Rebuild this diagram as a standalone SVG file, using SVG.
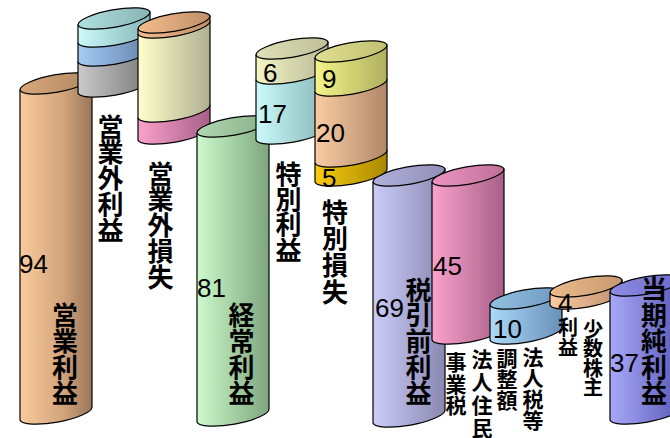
<svg xmlns="http://www.w3.org/2000/svg" width="670" height="438" viewBox="0 0 670 438">
<defs>
<linearGradient id="gTan"><stop offset="0" stop-color="#FACB9C"/><stop offset="0.6" stop-color="#D2A47C"/><stop offset="1" stop-color="#9A765A"/></linearGradient>
<linearGradient id="gTanTop"><stop offset="0" stop-color="#D8A87C"/><stop offset="1" stop-color="#B08860"/></linearGradient>
<linearGradient id="gCyan"><stop offset="0" stop-color="#CCFAFA"/><stop offset="1" stop-color="#86B6B8"/></linearGradient>
<linearGradient id="gCyanTop"><stop offset="0" stop-color="#B0E0E0"/><stop offset="1" stop-color="#88B4B4"/></linearGradient>
<linearGradient id="gBlue"><stop offset="0" stop-color="#A4CCF4"/><stop offset="1" stop-color="#6482AC"/></linearGradient>
<linearGradient id="gGray"><stop offset="0" stop-color="#CACACA"/><stop offset="1" stop-color="#7A7A7A"/></linearGradient>
<linearGradient id="gOrTop"><stop offset="0" stop-color="#F4BC8C"/><stop offset="1" stop-color="#C09068"/></linearGradient>
<linearGradient id="gYel"><stop offset="0" stop-color="#FFFFCC"/><stop offset="1" stop-color="#B0B092"/></linearGradient>
<linearGradient id="gPink"><stop offset="0" stop-color="#FAA2CC"/><stop offset="1" stop-color="#A86088"/></linearGradient>
<linearGradient id="gGreen"><stop offset="0" stop-color="#CCFACC"/><stop offset="1" stop-color="#7EA67E"/></linearGradient>
<linearGradient id="gGreenTop"><stop offset="0" stop-color="#B0D8B0"/><stop offset="1" stop-color="#88B088"/></linearGradient>
<linearGradient id="gPale"><stop offset="0" stop-color="#F4F4C4"/><stop offset="1" stop-color="#B8B898"/></linearGradient>
<linearGradient id="gPaleTop"><stop offset="0" stop-color="#E0E0B8"/><stop offset="1" stop-color="#C0C098"/></linearGradient>
<linearGradient id="gYG"><stop offset="0" stop-color="#F4F488"/><stop offset="1" stop-color="#B0B060"/></linearGradient>
<linearGradient id="gYGTop"><stop offset="0" stop-color="#E0E090"/><stop offset="1" stop-color="#C0C070"/></linearGradient>
<linearGradient id="gOr"><stop offset="0" stop-color="#FACCA4"/><stop offset="1" stop-color="#B08868"/></linearGradient>
<linearGradient id="gGold"><stop offset="0" stop-color="#FACC10"/><stop offset="1" stop-color="#A88800"/></linearGradient>
<linearGradient id="gLav"><stop offset="0" stop-color="#CCCCFA"/><stop offset="1" stop-color="#8888B0"/></linearGradient>
<linearGradient id="gLavTop"><stop offset="0" stop-color="#B0B0DC"/><stop offset="1" stop-color="#9090B8"/></linearGradient>
<linearGradient id="gPinkTop"><stop offset="0" stop-color="#EC94C4"/><stop offset="1" stop-color="#C07098"/></linearGradient>
<linearGradient id="gSky"><stop offset="0" stop-color="#ACDAFA"/><stop offset="1" stop-color="#6890B8"/></linearGradient>
<linearGradient id="gSkyTop"><stop offset="0" stop-color="#90C0E0"/><stop offset="1" stop-color="#7098C0"/></linearGradient>
<linearGradient id="gTan2"><stop offset="0" stop-color="#FACCA2"/><stop offset="1" stop-color="#C09070"/></linearGradient>
<linearGradient id="gTan2Top"><stop offset="0" stop-color="#ECBC8C"/><stop offset="1" stop-color="#C89870"/></linearGradient>
<linearGradient id="gPur"><stop offset="0" stop-color="#A8A8FA"/><stop offset="1" stop-color="#5A5AB8"/></linearGradient>
<linearGradient id="gPurTop"><stop offset="0" stop-color="#8C8CE4"/><stop offset="1" stop-color="#6A6AC8"/></linearGradient>
</defs>
<style>
.c path{stroke:#000;stroke-width:1.2;stroke-linejoin:round}
.n{font-family:"Liberation Sans",Arial,sans-serif;font-size:26px;fill:#000}
.j{font-family:"Noto Sans CJK JP","Noto Sans CJK SC",sans-serif;font-weight:700;font-size:26px;fill:#000;text-anchor:middle}
.s{font-size:21px}
.t{font-size:20px}
</style>
<g id="cyl-eigyo-rieki" class="c">
<path fill="url(#gTan)" d="M20,90 L20,420 A36.6 9 -10.2 0 0 92,407 L92,77 Z"/>
<path fill="url(#gTanTop)" d="M20,90 A36.6 9 -10.2 0 1 92,77 A36.6 9 -10.2 0 1 20,90 Z"/>
</g>
<g id="cyl-eigyogai-rieki" class="c">
<path fill="url(#gGray)" d="M78,62 L78,93 A36.6 9 -10.2 0 0 150,80 L150,49 Z"/>
<path fill="url(#gBlue)" d="M78,43 L78,62 A36.6 9 -10.2 0 0 150,49 L150,30 Z"/>
<path fill="url(#gCyan)" d="M78,25 L78,43 A36.6 9 -10.2 0 0 150,30 L150,12 Z"/>
<path fill="url(#gCyanTop)" d="M78,25 A36.6 9 -10.2 0 1 150,12 A36.6 9 -10.2 0 1 78,25 Z"/>
</g>
<g id="cyl-eigyogai-sonshitsu" class="c">
<path fill="url(#gPink)" d="M138,118 L138,140 A36.6 9 -10.2 0 0 210,127 L210,105 Z"/>
<path fill="url(#gYel)" d="M138,34 L138,118 A36.6 9 -10.2 0 0 210,105 L210,21 Z"/>
<path fill="url(#gOrTop)" d="M138,29 L138,34 A36.6 9 -10.2 0 0 210,21 L210,16 Z"/>
<path fill="url(#gOrTop)" d="M138,29 A36.6 9 -10.2 0 1 210,16 A36.6 9 -10.2 0 1 138,29 Z"/>
</g>
<g id="cyl-keijo-rieki" class="c">
<path fill="url(#gGreen)" d="M197,133 L197,422 A36.6 9 -10.2 0 0 269,409 L269,120 Z"/>
<path fill="url(#gGreenTop)" d="M197,133 A36.6 9 -10.2 0 1 269,120 A36.6 9 -10.2 0 1 197,133 Z"/>
</g>
<g id="cyl-tokubetsu-rieki" class="c">
<path fill="url(#gCyan)" d="M256,80 L256,140 A36.6 9 -10.2 0 0 328,127 L328,67 Z"/>
<path fill="url(#gPale)" d="M256,55 L256,80 A36.6 9 -10.2 0 0 328,67 L328,42 Z"/>
<path fill="url(#gPaleTop)" d="M256,55 A36.6 9 -10.2 0 1 328,42 A36.6 9 -10.2 0 1 256,55 Z"/>
</g>
<g id="cyl-zeibikimae" class="c">
<path fill="url(#gLav)" d="M373,182 L373,423 A36.6 9 -10.2 0 0 445,410 L445,169 Z"/>
<path fill="url(#gLavTop)" d="M373,182 A36.6 9 -10.2 0 1 445,169 A36.6 9 -10.2 0 1 373,182 Z"/>
</g>
<g id="cyl-tokubetsu-sonshitsu" class="c">
<path fill="url(#gGold)" d="M315,163 L315,182 A36.6 9 -10.2 0 0 387,169 L387,150 Z"/>
<path fill="url(#gOr)" d="M315,92 L315,163 A36.6 9 -10.2 0 0 387,150 L387,79 Z"/>
<path fill="url(#gYG)" d="M315,58 L315,92 A36.6 9 -10.2 0 0 387,79 L387,45 Z"/>
<path fill="url(#gYGTop)" d="M315,58 A36.6 9 -10.2 0 1 387,45 A36.6 9 -10.2 0 1 315,58 Z"/>
</g>
<g id="cyl-hojin-jumin" class="c">
<path fill="url(#gPink)" d="M432,182 L432,340 A36.6 9 -10.2 0 0 504,327 L504,169 Z"/>
<path fill="url(#gPinkTop)" d="M432,182 A36.6 9 -10.2 0 1 504,169 A36.6 9 -10.2 0 1 432,182 Z"/>
</g>
<g id="cyl-chosei" class="c">
<path fill="url(#gSky)" d="M490,305 L490,340 A36.6 9 -10.2 0 0 562,327 L562,292 Z"/>
<path fill="url(#gSkyTop)" d="M490,305 A36.6 9 -10.2 0 1 562,292 A36.6 9 -10.2 0 1 490,305 Z"/>
</g>
<g id="cyl-shosu" class="c">
<path fill="url(#gTan2)" d="M550,293 L550,305 A36.6 9 -10.2 0 0 622,292 L622,280 Z"/>
<path fill="url(#gTan2Top)" d="M550,293 A36.6 9 -10.2 0 1 622,280 A36.6 9 -10.2 0 1 550,293 Z"/>
</g>
<g id="cyl-toki-junrieki" class="c">
<path fill="url(#gPur)" d="M610,292 L610,420 A36.6 9 -10.2 0 0 682,407 L682,279 Z"/>
<path fill="url(#gPurTop)" d="M610,292 A36.6 9 -10.2 0 1 682,279 A36.6 9 -10.2 0 1 610,292 Z"/>
</g>
<g id="connectors"></g>
<g id="values">
<text class="n" x="19" y="273">94</text>
<text class="n" x="197" y="297">81</text>
<text class="n" x="263" y="82">6</text>
<text class="n" x="258" y="123">17</text>
<text class="n" x="322" y="88">9</text>
<text class="n" x="316" y="142">20</text>
<text class="n" x="322" y="187">5</text>
<text class="n" x="375" y="317">69</text>
<text class="n" x="433" y="275">45</text>
<text class="n" x="493" y="338">10</text>
<text class="n" x="558" y="312">4</text>
<text class="n" x="610" y="372">37</text>
</g>
<g id="labels">
<text class="j"><tspan x="110.5" y="136.6">営</tspan><tspan x="110.5" y="162.4">業</tspan><tspan x="110.5" y="188.2">外</tspan><tspan x="110.5" y="214">利</tspan><tspan x="110.5" y="239.8">益</tspan></text>
<text class="j"><tspan x="160.5" y="183.6">営</tspan><tspan x="160.5" y="209.4">業</tspan><tspan x="160.5" y="235.2">外</tspan><tspan x="160.5" y="261">損</tspan><tspan x="160.5" y="286.8">失</tspan></text>
<text class="j"><tspan x="288.5" y="183.6">特</tspan><tspan x="288.5" y="208.9">別</tspan><tspan x="288.5" y="234.2">利</tspan><tspan x="288.5" y="259.5">益</tspan></text>
<text class="j"><tspan x="335" y="221.6">特</tspan><tspan x="335" y="248.3">別</tspan><tspan x="335" y="275.1">損</tspan><tspan x="335" y="301.8">失</tspan></text>
<text class="j"><tspan x="65" y="324.6">営</tspan><tspan x="65" y="350.6">業</tspan><tspan x="65" y="376.6">利</tspan><tspan x="65" y="402.6">益</tspan></text>
<text class="j"><tspan x="241.5" y="324.6">経</tspan><tspan x="241.5" y="350.6">常</tspan><tspan x="241.5" y="376.6">利</tspan><tspan x="241.5" y="402.6">益</tspan></text>
<text class="j"><tspan x="418.5" y="299.6">税</tspan><tspan x="418.5" y="325.4">引</tspan><tspan x="418.5" y="351.2">前</tspan><tspan x="418.5" y="377">利</tspan><tspan x="418.5" y="402.8">益</tspan></text>
<text class="j"><tspan x="654" y="298.6">当</tspan><tspan x="654" y="324.6">期</tspan><tspan x="654" y="350.6">純</tspan><tspan x="654" y="376.6">利</tspan><tspan x="654" y="402.6">益</tspan></text>
<text class="j s"><tspan x="456" y="370.4">事</tspan><tspan x="456" y="391.7">業</tspan><tspan x="456" y="413">税</tspan></text>
<text class="j s"><tspan x="482" y="367.4">法</tspan><tspan x="482" y="390.4">人</tspan><tspan x="482" y="413.4">住</tspan><tspan x="482" y="436.4">民</tspan></text>
<text class="j s"><tspan x="507" y="366.4">調</tspan><tspan x="507" y="387.4">整</tspan><tspan x="507" y="408.4">額</tspan></text>
<text class="j s"><tspan x="533" y="365.4">法</tspan><tspan x="533" y="386.4">人</tspan><tspan x="533" y="407.4">税</tspan><tspan x="533" y="428.4">等</tspan></text>
<text class="j t"><tspan x="568" y="334.6">利</tspan><tspan x="568" y="354.6">益</tspan></text>
<text class="j t"><tspan x="593" y="336.6">少</tspan><tspan x="593" y="356.1">数</tspan><tspan x="593" y="375.6">株</tspan><tspan x="593" y="395.1">主</tspan></text>
</g>
</svg>
